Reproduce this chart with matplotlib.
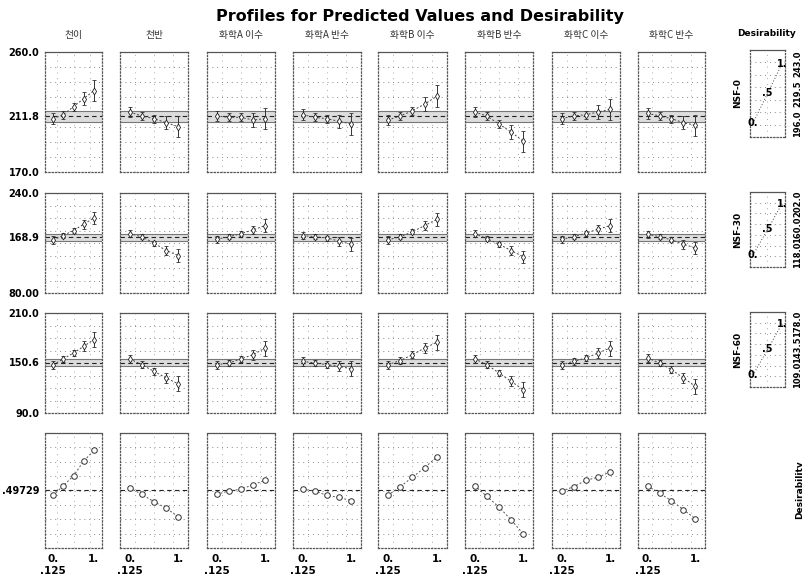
import numpy as np
import matplotlib
matplotlib.use("Agg")
import matplotlib.pyplot as plt

plt.rcParams['font.family'] = ['Noto Sans CJK KR', 'DejaVu Sans']

# factor levels (coded)
levels = [0.0, 0.25, 0.5, 0.75, 1.0]

factors = ["천이", "천반", "화학A 이수", "화학A 반수",
           "화학B 이수", "화학B 반수", "화학C 이수", "화학C 반수"]

responses = ["NSF-0", "NSF-30", "NSF-60"]
current = [211.8, 168.9, 150.6]
current_des = 0.49729

# predicted profiles, one list per factor
nsf0 = [
    [210, 213, 219, 225, 231],
    [215, 212, 210, 207, 204],
    [212, 211, 211, 209, 210],
    [213, 211, 210, 208, 206],
    [209, 212, 216, 221, 227],
    [215, 212, 206, 200, 193],
    [210, 212, 213, 215, 217],
    [214, 212, 210, 207, 205],
]
nsf30 = [
    [165, 172, 180, 190, 200],
    [175, 170, 160, 148, 140],
    [166, 170, 175, 181, 188],
    [172, 170, 168, 163, 158],
    [165, 170, 178, 188, 198],
    [175, 167, 158, 148, 138],
    [166, 170, 176, 182, 188],
    [174, 170, 165, 158, 152],
]
nsf60 = [
    [148, 155, 162, 170, 178],
    [155, 148, 140, 132, 125],
    [148, 150, 155, 160, 168],
    [152, 150, 148, 146, 143],
    [148, 153, 160, 168, 175],
    [155, 148, 138, 128, 118],
    [148, 152, 156, 162, 168],
    [156, 150, 142, 132, 122],
]
desir = [
    [0.476, 0.514, 0.552, 0.610, 0.652],
    [0.505, 0.480, 0.451, 0.426, 0.392],
    [0.480, 0.493, 0.500, 0.518, 0.535],
    [0.500, 0.493, 0.476, 0.468, 0.455],
    [0.476, 0.510, 0.547, 0.585, 0.627],
    [0.514, 0.472, 0.430, 0.380, 0.325],
    [0.493, 0.510, 0.535, 0.547, 0.568],
    [0.514, 0.484, 0.455, 0.420, 0.384],
]

# confidence half-widths per level
err0 = [4, 3, 3, 5, 8]
err30 = [6, 4, 4, 7, 10]
err60 = [5, 4, 4, 6, 9]

# axis ranges and tick labels for each row
y_ranges = [(170.0, 260.0), (80.0, 240.0), (90.0, 210.0), (0.27, 0.72)]
y_ticklabels = [["170.0", "211.8", "260.0"], ["80.00", "168.9", "240.0"],
                ["90.0", "150.6", "210.0"], [".49729"]]
band_half = [4.0, 5.0, 4.5]

# desirability function end points (low, mid, high) per response
des_low = [196.0, 118.0, 109.0]
des_mid = [219.5, 160.0, 143.5]
des_high = [243.0, 202.0, 178.0]
des_vals = [0.0, 0.5, 1.0]
des_text = ["0.", ".5", "1."]

W, H = 803, 577
fig = plt.figure(figsize=(W / 100, H / 100), dpi=100)


def px_axes(x0, y0, x1, y1):
    return fig.add_axes([x0 / W, 1 - y1 / H, (x1 - x0) / W, (y1 - y0) / H])


def style_panel(ax):
    for name, sp in ax.spines.items():
        sp.set_color('#555555')
        sp.set_linewidth(0.9)
        if name != 'top':
            sp.set_linestyle(':')
    ax.tick_params(length=0)


col_left = [45, 120, 207, 293, 378, 465, 552, 638]
col_right = [102, 188, 275, 361, 447, 533, 620, 705]
row_top = [52, 193, 313, 433]
row_bot = [172, 293, 413, 548]

all_rows = [nsf0, nsf30, nsf60, desir]
errs = [err0, err30, err60]

for r in range(4):
    lo, hi = y_ranges[r]
    for c in range(8):
        ax = px_axes(col_left[c], row_top[r], col_right[c], row_bot[r])
        style_panel(ax)
        ax.set_xlim(-0.2, 1.2)
        ax.set_ylim(lo, hi)
        # dotted grid
        for g in np.linspace(lo, hi, 9)[1:-1]:
            ax.axhline(g, color='#888888', lw=0.7, ls=(0, (1, 4)), zorder=0)
        for g in [0.1, 0.5, 0.9]:
            ax.axvline(g, color='#aaaaaa', lw=0.7, ls=(0, (1, 5)), zorder=0)
        y = all_rows[r][c]
        if r < 3:
            cur = current[r]
            ax.axhspan(cur - band_half[r], cur + band_half[r],
                       color='#dddddd', zorder=1, lw=0)
            ax.axhline(cur - band_half[r], color='#777777', lw=0.8, zorder=2)
            ax.axhline(cur + band_half[r], color='#777777', lw=0.8, zorder=2)
            ax.axhline(cur, color='#222222', lw=0.8, ls=(0, (4, 3)), zorder=2)
            ax.errorbar(levels, y, yerr=errs[r], fmt='d', ms=3.5, mfc='white',
                        mec='#222222', mew=0.6, ecolor='#333333', elinewidth=0.7,
                        capsize=1.5, capthick=0.6, zorder=4)
            ax.plot(levels, y, color='#444444', lw=0.7, ls=(0, (2, 2)), zorder=3)
            ax.set_yticks([lo, cur, hi])
        else:
            ax.axhline(current_des, color='#222222', lw=0.8, ls=(0, (4, 3)), zorder=2)
            ax.plot(levels, y, color='#555555', lw=0.7, ls=(0, (2, 2)), zorder=3)
            ax.plot(levels, y, 'o', ms=4, mfc='white', mec='#333333', mew=0.7, zorder=4)
            ax.set_yticks([current_des])
        if c == 0:
            ax.set_yticklabels(y_ticklabels[r], fontsize=7, fontweight='bold',
                               family=['DejaVu Sans'])
            ax.tick_params(axis='y', pad=4)
        else:
            ax.set_yticklabels([])
        if r == 3:
            ax.set_xticks([0.0, 1.0])
            ax.set_xticklabels(["0.\n.125", "1."], fontsize=7.5, fontweight='bold',
                               family=['DejaVu Sans'], linespacing=1.3)
            ax.tick_params(axis='x', pad=4)
        else:
            ax.set_xticks([])
        if r == 0:
            ax.text(0.5, 1.1, factors[c], transform=ax.transAxes, ha='center',
                    va='bottom', fontsize=7, color='#333333')

# desirability function panels on the right
des_top = [50, 192, 312]
des_bot = [137, 267, 387]
for r in range(3):
    ax = px_axes(750, des_top[r], 785, des_bot[r])
    style_panel(ax)
    span = des_high[r] - des_low[r]
    ax.set_xlim(-0.1, 1.1)
    ax.set_ylim(des_low[r] - 0.23 * span, des_high[r] + 0.23 * span)
    for g in np.linspace(des_low[r] - 0.23 * span, des_high[r] + 0.23 * span, 8)[1:-1]:
        ax.axhline(g, color='#888888', lw=0.7, ls=(0, (1, 4)), zorder=0)
    ax.axvline(0.5, color='#aaaaaa', lw=0.7, ls=(0, (1, 5)), zorder=0)
    ys = [des_low[r], des_mid[r], des_high[r]]
    ax.plot(des_vals, ys, color='#444444', lw=0.7, ls=(0, (1, 2)))
    for dv, yv, t in zip(des_vals, ys, des_text):
        ax.text(dv, yv, t, ha='center', va='center', fontsize=7,
                fontweight='bold', family=['DejaVu Sans'])
    ax.set_xticks([])
    ax.yaxis.tick_right()
    ax.set_yticks(ys)
    ax.set_yticklabels(["%.1f" % v for v in ys], rotation=90, fontsize=6,
                       fontweight='bold', va='center', family=['DejaVu Sans'])
    ax.tick_params(axis='y', pad=6)
    fig.text(738 / W, 1 - (des_top[r] + des_bot[r]) / 2 / H, responses[r],
             rotation=90, ha='center', va='center', fontsize=6.5,
             fontweight='bold', family=['DejaVu Sans'])

fig.text(800 / W, 1 - 490 / H, "Desirability", rotation=90, ha='center',
         va='center', fontsize=6.5, fontweight='bold', family=['DejaVu Sans'])
fig.text(767 / W, 1 - 33 / H, "Desirability", ha='center', va='center',
         fontsize=6.5, fontweight='bold', family=['DejaVu Sans'])
fig.text(420 / W, 1 - 16 / H, "Profiles for Predicted Values and Desirability",
         ha='center', va='center', fontsize=11.5, fontweight='bold',
         family=['DejaVu Sans'])

fig.savefig("out.png", dpi=100)
